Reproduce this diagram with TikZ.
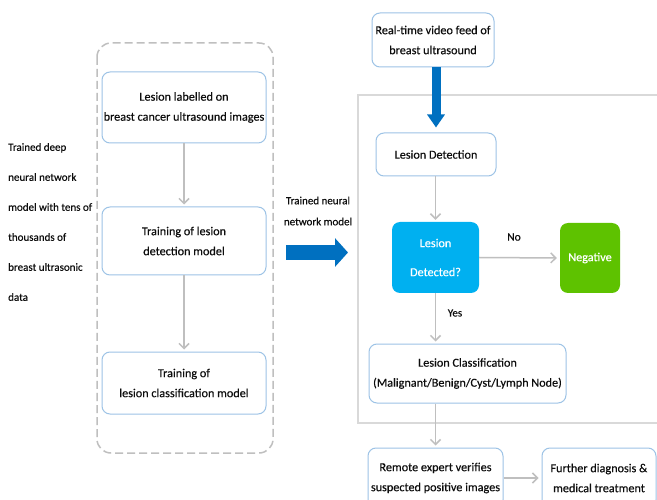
\documentclass[tikz,border=0pt]{standalone}
\usepackage{fontspec}
\setmainfont{Carlito}[UprightFeatures={FakeBold=0.35}]
\usetikzlibrary{arrows.meta,calc}
\definecolor{boxline}{HTML}{9DC3E6}
\definecolor{graylink}{HTML}{BFBFBF}
\definecolor{framegray}{HTML}{D9D9D9}
\definecolor{bigblue}{HTML}{0070C0}
\definecolor{cyanbox}{HTML}{00B0F0}
\definecolor{greenbox}{HTML}{5EC200}
\definecolor{txt}{HTML}{0D0D0D}
\tikzset{
  box/.style={rectangle, rounded corners=8pt, draw=boxline, line width=1pt, fill=white,
    align=center, inner sep=0pt, text=txt, font=\fontsize{12.2}{20}\selectfont},
  decide/.style={rectangle, rounded corners=8pt, fill=cyanbox, align=center, inner sep=0pt,
    text=white, font=\fontsize{12.2}{29}\selectfont},
  negbox/.style={rectangle, rounded corners=8pt, fill=greenbox, align=center, inner sep=0pt,
    text=white, font=\fontsize{12.2}{20}\selectfont},
  link/.style={draw=graylink, line width=1.5pt, -{Straight Barb[length=5pt,width=10pt]}},
  plain/.style={text=txt, font=\fontsize{11}{11}\selectfont, inner sep=0pt},
  dashframe/.style={draw=graylink, line width=1.5pt, dash pattern=on 8pt off 4pt, rounded corners=14pt},
  solidframe/.style={draw=framegray, line width=1.5pt}
}
\begin{document}
\begin{tikzpicture}[x=1pt,y=-1pt]
\useasboundingbox (0,0) rectangle (657,500);
\clip (0,0) rectangle (657,500);
\fill[white] (0,0) rectangle (657,500);

% frames
\draw[dashframe] (97,43) rectangle (273,453);
\draw[solidframe] (358,95) rectangle (720,423);

% left text
\node[plain, anchor=west, align=left, font=\fontsize{11}{30}\selectfont] (lefttext) at (8,222)
  {Trained deep\\neural network\\model with tens of\\thousands of\\breast ultrasonic\\data};

% training column
\node[box, minimum width=164pt, minimum height=71pt] (b1) at (184,107.5)
  {Lesion labelled on\\breast cancer ultrasound images};
\node[box, minimum width=164pt, minimum height=68pt] (b2) at (184,241)
  {Training of lesion\\detection model};
\node[box, minimum width=164pt, minimum height=62pt] (b3) at (184,383)
  {Training of\\lesion classification model};
\draw[link, shorten >=2pt] (b1) -- (b2);
\draw[link, shorten >=2pt] (b2) -- (b3);

% middle label and arrow
\node[plain, align=center, font=\fontsize{11}{21}\selectfont] (tnn) at (318,211)
  {Trained neural\\network model};
\coordinate (ha) at (286,252.5);
\coordinate (hb) at (348,252.5);
\draw[bigblue, line width=15pt, -{Triangle[length=13pt,width=28pt]}] (ha) -- (hb);

% right column
\node[box, minimum width=122pt, minimum height=54pt] (rt) at (433,40)
  {Real-time video feed of\\breast ultrasound};
\node[box, minimum width=120pt, minimum height=43pt] (det) at (436,154.5)
  {Lesion Detection};
\node[decide, minimum width=87pt, minimum height=71pt] (dec) at (435.5,257.5)
  {Lesion\\Detected?};
\node[negbox, minimum width=60pt, minimum height=70pt] (neg) at (590,258)
  {Negative};
\node[box, minimum width=197pt, minimum height=59pt] (cls) at (467.5,373.5)
  {Lesion Classification\\(Malignant/Benign/Cyst/Lymph Node)};
\node[box, minimum width=135pt, minimum height=60pt] (rem) at (435.5,478)
  {Remote expert verifies\\suspected positive images};
\node[box, minimum width=114pt, minimum height=60pt] (fur) at (599,478)
  {Further diagnosis \&\\medical treatment};

\draw[bigblue, line width=9pt, -{Triangle[length=13pt,width=17pt]}]
  (rt.south -| det.north) -- ([yshift=5pt]det.north);
\draw[link, shorten >=2pt] (det.south -| dec.north) -- (dec.north);
\draw[link, shorten >=3pt] (dec.east) -- (neg.west);
\draw[link, shorten >=2pt] (dec.south) -- (dec.south |- cls.north);
\draw[link, shorten >=2pt] (rem.north |- cls.south) -- (rem.north);
\draw[link, shorten >=3pt] (rem.east) -- (fur.west);

\node[plain, font=\fontsize{11.5}{12}\selectfont] (nolab) at (514,237) {No};
\node[plain, font=\fontsize{11}{12}\selectfont] (yeslab) at (455,313) {Yes};
\end{tikzpicture}
\end{document}
